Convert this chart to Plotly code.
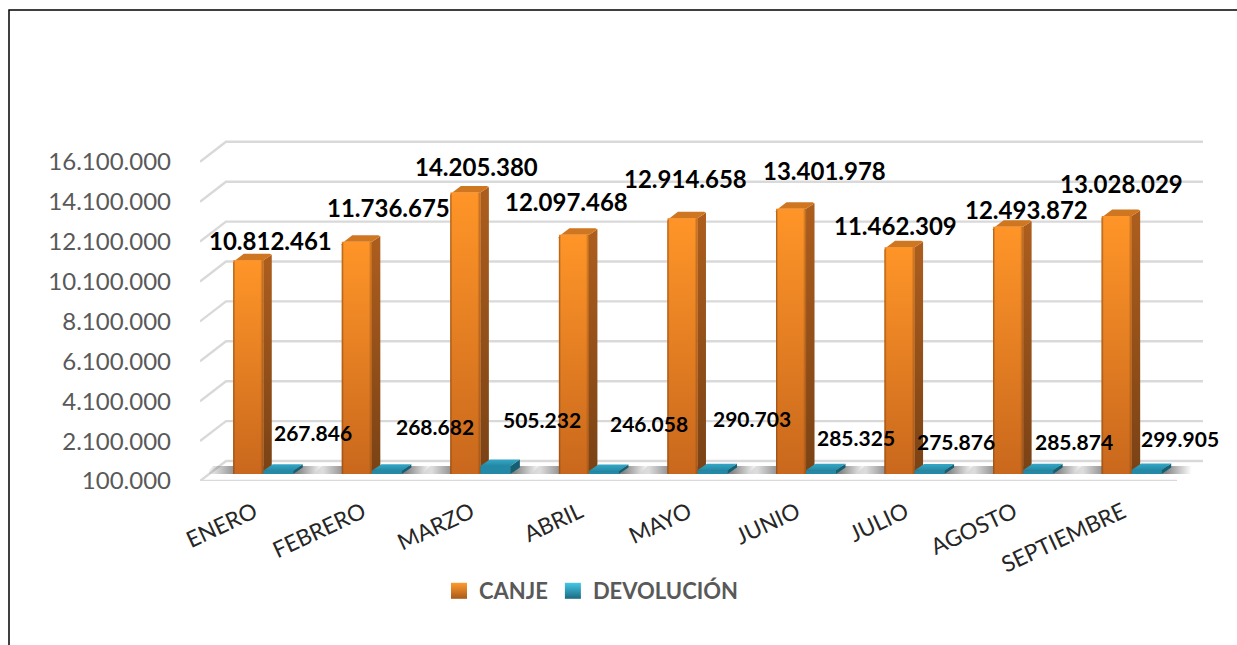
import plotly.graph_objects as go

W, H = 1237, 645

# ---------- data ----------
meses = ["ENERO", "FEBRERO", "MARZO", "ABRIL", "MAYO", "JUNIO", "JULIO", "AGOSTO", "SEPTIEMBRE"]
canje = [10812461, 11736675, 14205380, 12097468, 12914658, 13401978, 11462309, 12493872, 13028029]
devolucion = [267846, 268682, 505232, 246058, 290703, 285325, 275876, 285874, 299905]
y_ticks = [100000, 2100000, 4100000, 6100000, 8100000, 10100000, 12100000, 14100000, 16100000]

# ---------- label nudges (pixels, relative to the top of each bar) ----------
canje_dx = [22, 32, 11, -7.5, 3.5, 33, -4.5, 18, 4.5]
canje_dy = [20, 34, 26, 33, 40, 38, 22, 17, 33]
dev_dx = [35, 48.5, 47, 45.5, 40, 34.5, 26, 36, 33]
dev_dy = [38, 44, 46, 48, 52, 33, 29, 29, 32]

# ---------- scale geometry (pixels) ----------
CAT_PX = 108.55
VAL_PX = 39.9 / 2000000
X0, Y0 = 200, 481           # front-left corner of the floor
PLOT_W, PLOT_H = 1010, 351
FLOOR_SHIFT_X, FLOOR_SHIFT_Y = 9, 7
BAR_W = 30 / CAT_PX


def px_x(p):
    return p / CAT_PX


def px_y(p):
    return p / VAL_PX


def fmt(v):
    return f"{v:,}".replace(",", ".")


x_range = [-0.5, -0.5 + PLOT_W / CAT_PX]
y_range = [100000, 100000 + PLOT_H / VAL_PX]
idx = list(range(len(meses)))

fig = go.Figure()


def poly(xs, ys, **kw):
    fig.add_trace(go.Scatter(x=xs + xs[:1], y=ys + ys[:1], mode="lines", fill="toself",
                             line=dict(width=0, color="rgba(0,0,0,0)"), xaxis="x2", yaxis="y2",
                             hoverinfo="skip", showlegend=False, **kw))


def vgrad(bottom, top):
    return dict(type="vertical", colorscale=[[0, bottom], [1, top]])


# back wall, side wall and floor lines
gx, gy = [], []
for t in y_ticks:
    gx += [x_range[0], x_range[0] + px_x(26), x_range[0] + px_x(26) + 9, None]
    gy += [t, t + px_y(20), t + px_y(20), None]
gx += [x_range[0], x_range[0] + 9]
gy += [y_ticks[0], y_ticks[0]]
fig.add_trace(go.Scatter(x=gx, y=gy, mode="lines", line=dict(color="#D9D9D9", width=2.4),
                         hoverinfo="skip", showlegend=False))

# floor shadows
for i in idx:
    left = i - BAR_W
    right = i + BAR_W
    poly([left - px_x(28), right + px_x(30), right + px_x(30), left - px_x(20)],
         [y_ticks[0], y_ticks[0], y_ticks[0] + px_y(8), y_ticks[0] + px_y(8)],
         fillgradient=dict(type="horizontal",
                           colorscale=[[0, "rgba(80,80,80,0)"], [0.28, "rgba(80,80,80,0.7)"],
                                       [0.78, "rgba(80,80,80,0.7)"], [1, "rgba(80,80,80,0)"]]))

# real bars
fig.add_trace(go.Bar(x=idx, y=canje, width=BAR_W, offset=-BAR_W, marker=dict(color="#E8801F", line=dict(width=0)),
                     xaxis="x2", yaxis="y2", name="CANJE", showlegend=False))
fig.add_trace(go.Bar(x=idx, y=devolucion, width=BAR_W, offset=0, marker=dict(color="#2389A6", line=dict(width=0)),
                     xaxis="x2", yaxis="y2", name="DEVOLUCIÓN", showlegend=False))

base = y_ticks[0]
# 3-D faces for CANJE
dx, dy = px_x(8.5), px_y(6.5)
for i, v in zip(idx, canje):
    l, r = i - BAR_W, i
    c = px_x(2)
    # side
    poly([r, r + dx, r + dx, r], [base, base + dy, v + dy - px_y(1), v],
         fillgradient=vgrad("#7A4215", "#AD5E1E"))
    # top
    poly([l + c, r, r + dx, r + dx - c, l + dx + c],
         [v, v, v + dy - px_y(1), v + dy, v + dy],
         fillcolor="#CF7620")
    # front
    poly([l, r, r, l + c, l],
         [base, base, v, v, v - px_y(2.5)],
         fillgradient=vgrad("#C9681D", "#FF9528"))
    poly([l, r, r, l + c, l],
         [base, base, v, v, v - px_y(2.5)],
         fillgradient=dict(type="horizontal",
                           colorscale=[[0, "rgba(120,65,20,0.7)"], [0.07, "rgba(120,65,20,0)"],
                                       [0.9, "rgba(120,65,20,0)"], [1, "rgba(120,65,20,0.55)"]]))

# 3-D faces for DEVOLUCIÓN
dx, dy = px_x(9.5), px_y(6.5)
for i, v in zip(idx, devolucion):
    l, r = i, i + BAR_W
    poly([r, r + dx, r + dx, r], [base, base + dy, v + dy, v], fillcolor="#155F73")
    poly([l, r, r + dx, l + dx],
         [v, v, v + dy, v + dy],
         fillgradient=vgrad("#2389A6", "#35A8C6"))
    poly([l, r, r, l], [base, base, v, v], fillcolor="#2389A6")

# legend keys
fig.add_trace(go.Scatter(x=[None], y=[None], mode="markers", name="CANJE",
                         marker=dict(symbol="square", size=16, color="#FF9B2E",
                                     gradient=dict(type="vertical", color="#A85A18"),
                                     line=dict(width=0))))
fig.add_trace(go.Scatter(x=[None], y=[None], mode="markers", name="DEVOLUCIÓN",
                         marker=dict(symbol="square", size=16, color="#45C8E8",
                                     gradient=dict(type="vertical", color="#1A6A80"),
                                     line=dict(width=0))))

# value labels
annotations = []
for i, v, ox, oy in zip(idx, canje, canje_dx, canje_dy):
    annotations.append(dict(x=i - BAR_W / 2, y=v, xref="x2", yref="y2", text=f"<b>{fmt(v)}</b>", showarrow=False,
                            xshift=ox, yshift=oy, font=dict(family="Lato", size=24, color="#000000")))
for i, v, ox, oy in zip(idx, devolucion, dev_dx, dev_dy):
    annotations.append(dict(x=i + BAR_W / 2, y=v, xref="x2", yref="y2", text=f"<b>{fmt(v)}</b>", showarrow=False,
                            xshift=ox, yshift=oy, font=dict(family="Lato", size=21, color="#000000")))

fig.update_layout(
    width=W, height=H,
    margin=dict(l=0, r=0, t=0, b=0, autoexpand=False),
    paper_bgcolor="white", plot_bgcolor="rgba(0,0,0,0)",
    barmode="overlay",
    font=dict(family="Lato"),
    showlegend=True,
    legend=dict(orientation="h", x=591 / W, y=1 - 591 / H, xanchor="center", yanchor="middle",
                font=dict(family="Lato", size=22, color="#595959", weight="bold"),
                bgcolor="rgba(0,0,0,0)", traceorder="normal"),
    xaxis=dict(domain=[X0 / W, (X0 + PLOT_W) / W], range=x_range, tickmode="array", automargin=False,
               tickvals=idx, ticktext=meses, tickangle=-25, showgrid=False, zeroline=False,
               showline=False, ticks="", ticklabelstandoff=13,
               tickfont=dict(family="Lato", size=22.5, color="#262626")),
    yaxis=dict(domain=[1 - Y0 / H, 1 - (Y0 - PLOT_H) / H], range=y_range, tickmode="array", automargin=False,
               tickvals=y_ticks, ticktext=[fmt(t) for t in y_ticks], showgrid=False, zeroline=False,
               showline=False, ticks="", ticklabelstandoff=28,
               tickfont=dict(family="Lato", size=24, color="#595959")),
    xaxis2=dict(domain=[(X0 + FLOOR_SHIFT_X) / W, (X0 + FLOOR_SHIFT_X + PLOT_W) / W], range=x_range,
                anchor="y2", visible=False, automargin=False),
    yaxis2=dict(domain=[1 - (Y0 - FLOOR_SHIFT_Y) / H, 1 - (Y0 - FLOOR_SHIFT_Y - PLOT_H) / H], range=y_range,
                anchor="x2", visible=False, automargin=False),
    annotations=annotations,
    shapes=[dict(type="path", xref="paper", yref="paper", layer="above",
                 path=f"M {9 / W} 0 L {9 / W} {1 - 10 / H} L 1 {1 - 10 / H}",
                 line=dict(color="#000000", width=1.5))],
)

fig.write_html("out.html", config=dict(displayModeBar=False),
               post_script="document.body.style.margin='0';document.body.style.overflow='hidden';")
